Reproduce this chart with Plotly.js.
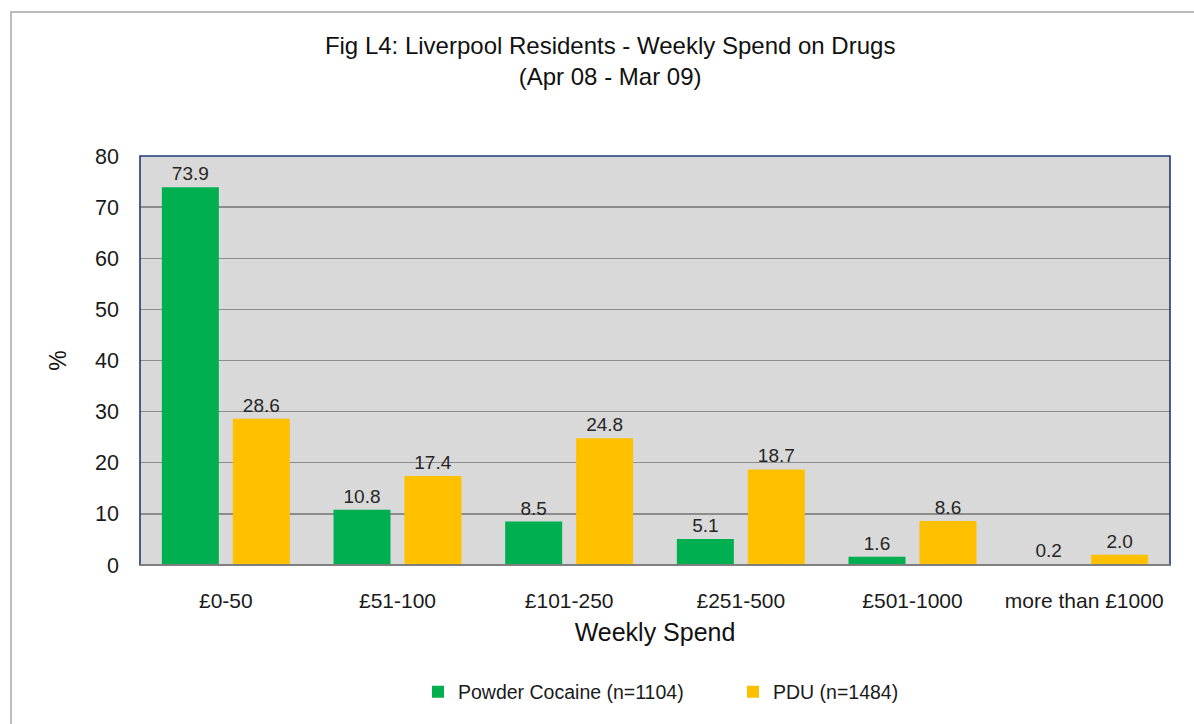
<!DOCTYPE html>
<html>
<head>
<meta charset="utf-8">
<script src="https://cdn.plot.ly/plotly-3.0.1.min.js"></script>
<style>
html,body{margin:0;padding:0;background:#fff;}
#chart{width:1194px;height:724px;}
</style>
</head>
<body>
<div id="chart"></div>
<script>
const categories = ["£0-50", "£51-100", "£101-250", "£251-500", "£501-1000", "more than £1000"];
const cocaineValues = [73.9, 10.8, 8.5, 5.1, 1.6, 0.2];
const pduValues = [28.6, 17.4, 24.8, 18.7, 8.6, 2.0];
const seriesNames = ["Powder Cocaine (n=1104)", "PDU (n=1484)"];
const yTicks = [0, 10, 20, 30, 40, 50, 60, 70, 80];

const FONT = "Liberation Sans, Arial, sans-serif";
const W = 1194, H = 724;
const M = {l: 140, r: 24, t: 156, b: 159};
const pw = W - M.l - M.r, ph = H - M.t - M.b;

const traces = [
  {
    type: "bar", x: categories, y: cocaineValues, name: seriesNames[0],
    marker: {color: "#00b050"},
    text: cocaineValues.map(v => v.toFixed(1)), textposition: "outside",
    textfont: {family: FONT, size: 19, color: "#262626"}, cliponaxis: false
  },
  {
    type: "bar", x: categories, y: pduValues, name: seriesNames[1],
    marker: {color: "#ffc000"},
    text: pduValues.map(v => v.toFixed(1)), textposition: "outside",
    textfont: {family: FONT, size: 19, color: "#262626"}, cliponaxis: false
  }
];

const layout = {
  width: W, height: H,
  margin: M,
  paper_bgcolor: "#ffffff",
  plot_bgcolor: "#d9d9d9",
  font: {family: FONT, color: "#1a1a1a"},
  barmode: "group",
  bargap: 0.173,
  bargroupgap: 0.197,
  title: {
    text: "Fig L4: Liverpool Residents - Weekly Spend on Drugs<br>(Apr 08 - Mar 09)",
    font: {family: FONT, size: 24, color: "#111"},
    xref: "container", x: 0.511, xanchor: "center",
    yref: "container", y: 1 - 54/724, yanchor: "top"
  },
  xaxis: {
    type: "category",
    showgrid: false, zeroline: false, showline: false,
    ticks: "", ticklabelstandoff: 21,
    tickfont: {family: FONT, size: 21, color: "#1a1a1a"},
    title: {text: "Weekly Spend", font: {family: FONT, size: 25, color: "#111"}, standoff: 12}
  },
  yaxis: {
    range: [0, 80], tickvals: yTicks, ticktext: yTicks.map(String),
    showgrid: true, gridcolor: "#8c8c8c", gridwidth: 1.3,
    zeroline: false, showline: false, ticks: "", ticklabelstandoff: 20,
    tickfont: {family: FONT, size: 21.5, color: "#1a1a1a"},
    title: {text: "%", font: {family: FONT, size: 23, color: "#111"}, standoff: 22}
  },
  showlegend: true,
  legend: {
    orientation: "h",
    xref: "container", x: 733/W, xanchor: "center",
    yref: "container", y: (H - 692)/H, yanchor: "middle",
    font: {family: FONT, size: 19.5, color: "#1a1a1a"},
    entrywidth: 270, entrywidthmode: "pixels",
    bgcolor: "rgba(0,0,0,0)"
  },
  shapes: [
    {type: "rect", xref: "paper", yref: "paper", x0: 0, x1: 1, y0: 0, y1: 1,
     line: {color: "#1f3a7a", width: 1.6}, layer: "above"},
    {type: "line", xref: "paper", yref: "paper", x0: 0, x1: 1, y0: 0, y1: 0,
     line: {color: "#7f7f7f", width: 2.2}, layer: "above"},
    {type: "rect", xref: "paper", yref: "paper",
     x0: (11 - M.l)/pw, x1: (1240 - M.l)/pw,
     y0: 1 + (M.t - 12)/ph, y1: -(M.b + 60)/ph,
     line: {color: "#a6a6a6", width: 1.5}, layer: "below"}
  ]
};

Plotly.newPlot("chart", traces, layout, {displayModeBar: false, staticPlot: true});
</script>
</body>
</html>
